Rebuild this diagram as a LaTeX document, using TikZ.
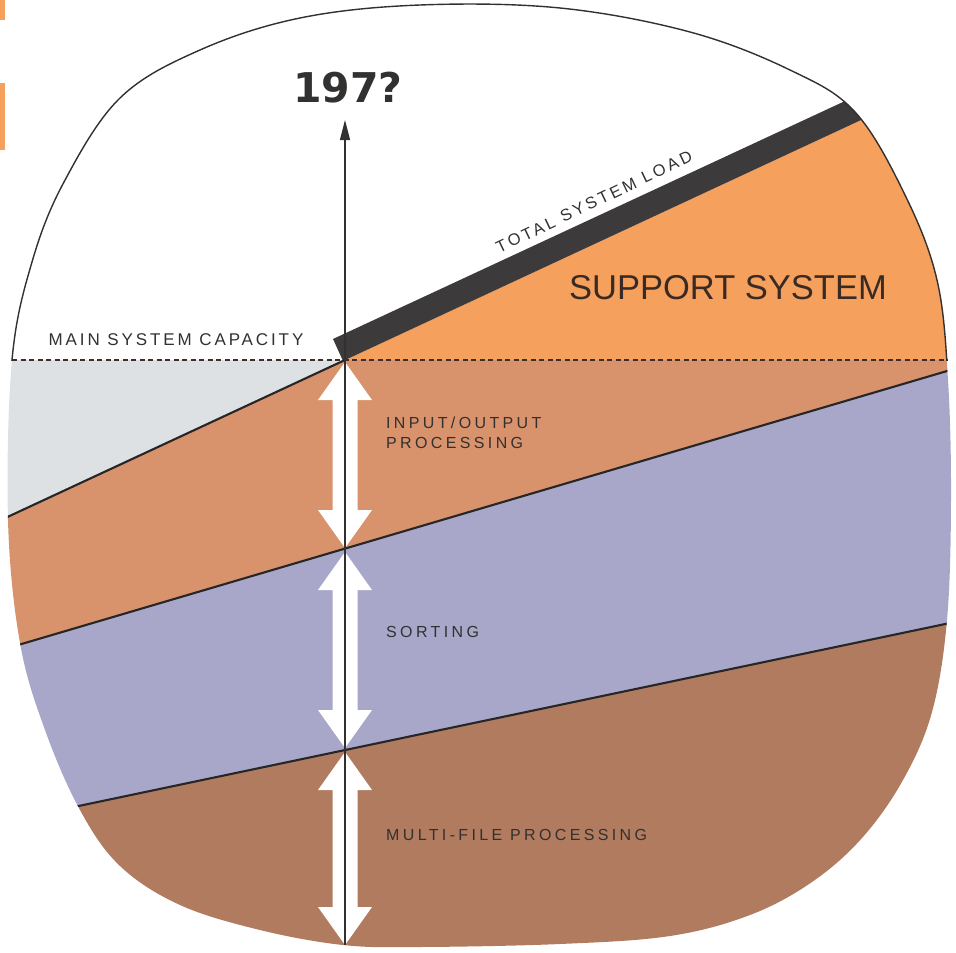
\documentclass[tikz,border=0pt]{standalone}
\usepackage{fontspec}
\setmainfont{Liberation Sans}
\newfontfamily\heavyfont{DejaVu Sans}
\usetikzlibrary{arrows.meta}
\definecolor{supportc}{HTML}{F6A05E}
\definecolor{loadc}{HTML}{3C3A3A}
\definecolor{greyc}{HTML}{DDE1E4}
\definecolor{ioc}{HTML}{D8926C}
\definecolor{sortc}{HTML}{A9A7C9}
\definecolor{multic}{HTML}{B17B60}
\definecolor{inkc}{HTML}{333030}
\definecolor{brownink}{HTML}{3A2A24}
\definecolor{dotc}{HTML}{3E2E28}
\newcommand\wdarrow[2]{%
  \fill[white] (345,#1) -- (372,#1+38) -- (357.5,#1+38) -- (357.5,#2-38) -- (372,#2-38)
   -- (345,#2) -- (318,#2-38) -- (332.5,#2-38) -- (332.5,#1+38) -- (318,#1+38) -- cycle;}
\def\outlinepath{plot[smooth cycle, tension=0.6] coordinates {
 (12,360) (32,262) (64,182) (120,98) (200,50) (300,18) (420,5) (560,8) (690,32)
 (790,70) (855,112) (905,195) (937,280) (948,380) (951,500) (947,620) (932,712)
 (903,780) (862,838) (812,882) (750,915) (670,936) (560,944) (420,947) (343,945) (260,930)
 (180,905) (120,866) (80,810) (45,730) (20,643) (8,520)}}
\tikzset{
  bandline/.style={draw=black!85, line width=2.1pt},
  lbl/.style={text=inkc, inner sep=0pt, font=\fontsize{16}{20}\selectfont\addfontfeature{LetterSpace=21}},
}
\begin{document}
\begin{tikzpicture}[x=1pt,y=-1pt]
\useasboundingbox (0,0) rectangle (956,953);
% page tabs
\fill[supportc] (0,0) rectangle (5,20);
\fill[supportc] (0,83) rectangle (5,150);
% coloured bands
\begin{scope}
  \clip \outlinepath;
  \fill[greyc] (-50,360) -- (345,360) -- (-50,543.7) -- cycle;
  \fill[ioc] (-50,543.7) -- (345,360) -- (984,360) -- (-50,665.1) -- cycle;
  \fill[sortc] (-50,665.1) -- (1000,355.4) -- (1000,612.5) -- (-50,833) -- cycle;
  \fill[multic] (-50,833) -- (1000,612.5) -- (1000,1000) -- (-50,1000) -- cycle;
  \fill[supportc] (345,360) -- (1000,360) -- (1000,55.4) -- cycle;
  \fill[loadc] (343,361) -- (333,339) -- (1000,29) -- (1000,55.4) -- cycle;
  \coordinate (l1a) at (-50,543.7);
  \coordinate (c1) at (345,360);
  \coordinate (l2a) at (-50,665.1);
  \coordinate (l2b) at (1000,355.4);
  \coordinate (l3a) at (-50,833);
  \coordinate (l3b) at (1000,612.5);
  \draw[bandline] (l1a) -- (c1);
  \draw[bandline] (l2a) -- (l2b);
  \draw[bandline] (l3a) -- (l3b);
\end{scope}
% white double arrows
\wdarrow{362}{548}
\wdarrow{552}{748}
\wdarrow{752}{945}
% main system capacity
\coordinate (dl) at (12,360);
\coordinate (dr) at (948,360);
\draw[dotc, line width=2.6pt, dash pattern=on 5pt off 3.5pt] (dl) -- (dr);
% outline (upper part only)
\begin{scope}
  \clip (-10,-10) rectangle (970,360);
  \draw[inkc, line width=1.4pt] \outlinepath;
\end{scope}
% axis
\coordinate (axb) at (345,945);
\coordinate (axt) at (345,120);
\draw[inkc, line width=1.3pt, -{Triangle[length=20pt,width=10pt]}] (axb) -- (axt);
% texts
\node[text=inkc, inner sep=0pt, font=\heavyfont\bfseries\fontsize{41}{44}\selectfont] (year) at (348,88) {197?};
\node[lbl, rotate=25.5, font=\fontsize{16.5}{18}\selectfont\addfontfeature{LetterSpace=18}] (tsl) at (594,202) {TOTAL SYSTEM LOAD};
\node[text=brownink, inner sep=0pt, font=\fontsize{34.5}{36}\selectfont] (ss) at (728,288) {SUPPORT SYSTEM};
\node[lbl, font=\fontsize{17}{18}\selectfont\addfontfeature{LetterSpace=17}] (msc) at (176,340) {MAIN SYSTEM CAPACITY};
\node[lbl, anchor=west, align=left] (io) at (386,433) {INPUT/OUTPUT\\PROCESSING};
\node[lbl, anchor=west] (sort) at (386,632) {SORTING};
\node[lbl, anchor=west] (mfp) at (386,835) {MULTI-FILE PROCESSING};
\end{tikzpicture}
\end{document}
